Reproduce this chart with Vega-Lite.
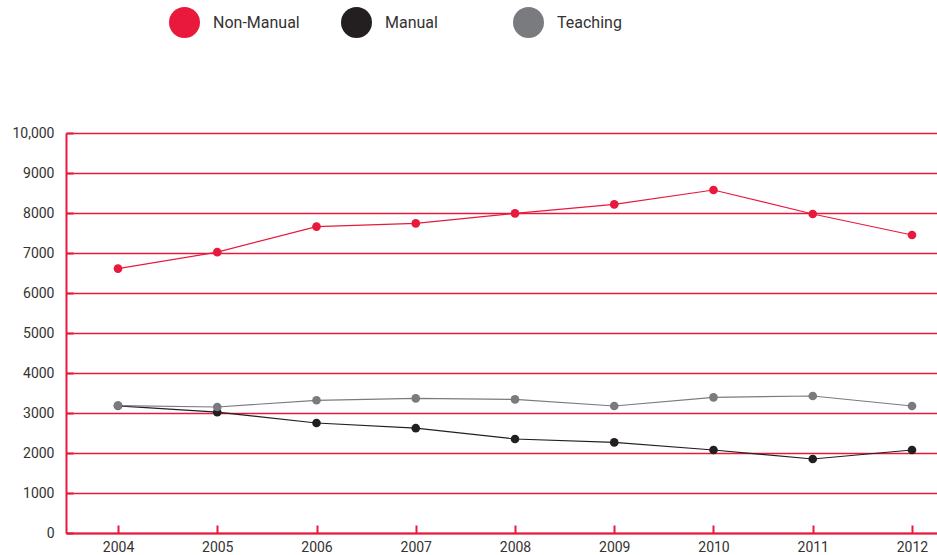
{
  "$schema": "https://vega.github.io/schema/vega-lite/v6.json",
  "width": 871,
  "height": 400,
  "autosize": {"type": "none"},
  "padding": {"left": 66, "top": 133, "right": 0, "bottom": 22},
  "config": {
    "view": {"stroke": null},
    "font": "Roboto",
    "axis": {"labelFont": "Roboto", "labelColor": "#333333", "labelFontSize": 14},
    "axisY": {"gridColor": "#e8193c", "gridOpacity": 1, "gridWidth": 1.3}
  },
  "data": {
    "values": [
      {"year": 2004, "series": "Non-Manual", "value": 6610},
      {"year": 2005, "series": "Non-Manual", "value": 7020},
      {"year": 2006, "series": "Non-Manual", "value": 7660},
      {"year": 2007, "series": "Non-Manual", "value": 7740},
      {"year": 2008, "series": "Non-Manual", "value": 7990},
      {"year": 2009, "series": "Non-Manual", "value": 8215},
      {"year": 2010, "series": "Non-Manual", "value": 8575},
      {"year": 2011, "series": "Non-Manual", "value": 7975},
      {"year": 2012, "series": "Non-Manual", "value": 7450},
      {"year": 2004, "series": "Manual", "value": 3180},
      {"year": 2005, "series": "Manual", "value": 3020},
      {"year": 2006, "series": "Manual", "value": 2750},
      {"year": 2007, "series": "Manual", "value": 2620},
      {"year": 2008, "series": "Manual", "value": 2350},
      {"year": 2009, "series": "Manual", "value": 2265},
      {"year": 2010, "series": "Manual", "value": 2075},
      {"year": 2011, "series": "Manual", "value": 1850},
      {"year": 2012, "series": "Manual", "value": 2075},
      {"year": 2004, "series": "Teaching", "value": 3185},
      {"year": 2005, "series": "Teaching", "value": 3150},
      {"year": 2006, "series": "Teaching", "value": 3318},
      {"year": 2007, "series": "Teaching", "value": 3367},
      {"year": 2008, "series": "Teaching", "value": 3340},
      {"year": 2009, "series": "Teaching", "value": 3175},
      {"year": 2010, "series": "Teaching", "value": 3392},
      {"year": 2011, "series": "Teaching", "value": 3425},
      {"year": 2012, "series": "Teaching", "value": 3175}
    ]
  },
  "encoding": {
    "x": {
      "field": "year",
      "type": "quantitative",
      "scale": {"domain": [2003.476, 2012.252], "nice": false, "zero": false},
      "axis": {
        "title": null,
        "values": [2004, 2005, 2006, 2007, 2008, 2009, 2010, 2011, 2012],
        "format": "d",
        "grid": false,
        "domainColor": "#e8193c",
        "domainWidth": 2,
        "tickColor": "#e8193c",
        "tickWidth": 2,
        "tickSize": -8,
        "labelPadding": 15,
        "labelFlush": false
      }
    },
    "y": {
      "field": "value",
      "type": "quantitative",
      "scale": {"domain": [0, 10000], "nice": false},
      "axis": {
        "title": null,
        "values": [0, 1000, 2000, 3000, 4000, 5000, 6000, 7000, 8000, 9000, 10000],
        "labelExpr": "datum.value >= 10000 ? format(datum.value, ',') : format(datum.value, 'd')",
        "grid": true,
        "gridColor": "#e8193c",
        "gridWidth": 1.3,
        "domainColor": "#e8193c",
        "domainWidth": 2,
        "tickColor": "#e8193c",
        "tickWidth": 2,
        "tickSize": -7,
        "labelPadding": 19
      }
    },
    "color": {
      "field": "series",
      "type": "nominal",
      "scale": {"domain": ["Non-Manual", "Manual", "Teaching"], "range": ["#e8193c", "#231f20", "#7a7b7e"]},
      "legend": {
        "title": null,
        "orient": "none",
        "legendX": 103,
        "legendY": -126,
        "direction": "horizontal",
        "columns": 3,
        "gridAlign": "all",
        "columnPadding": 41,
        "symbolType": "circle",
        "symbolSize": 960,
        "symbolOpacity": 1,
        "symbolStrokeWidth": 0,
        "labelOffset": 13,
        "labelFontSize": 16,
        "labelColor": "#333333",
        "labelFont": "Roboto"
      }
    }
  },
  "layer": [
    {
      "mark": {"type": "line", "strokeWidth": 1.2}
    },
    {
      "mark": {"type": "circle", "size": 75, "opacity": 1}
    }
  ]
}
